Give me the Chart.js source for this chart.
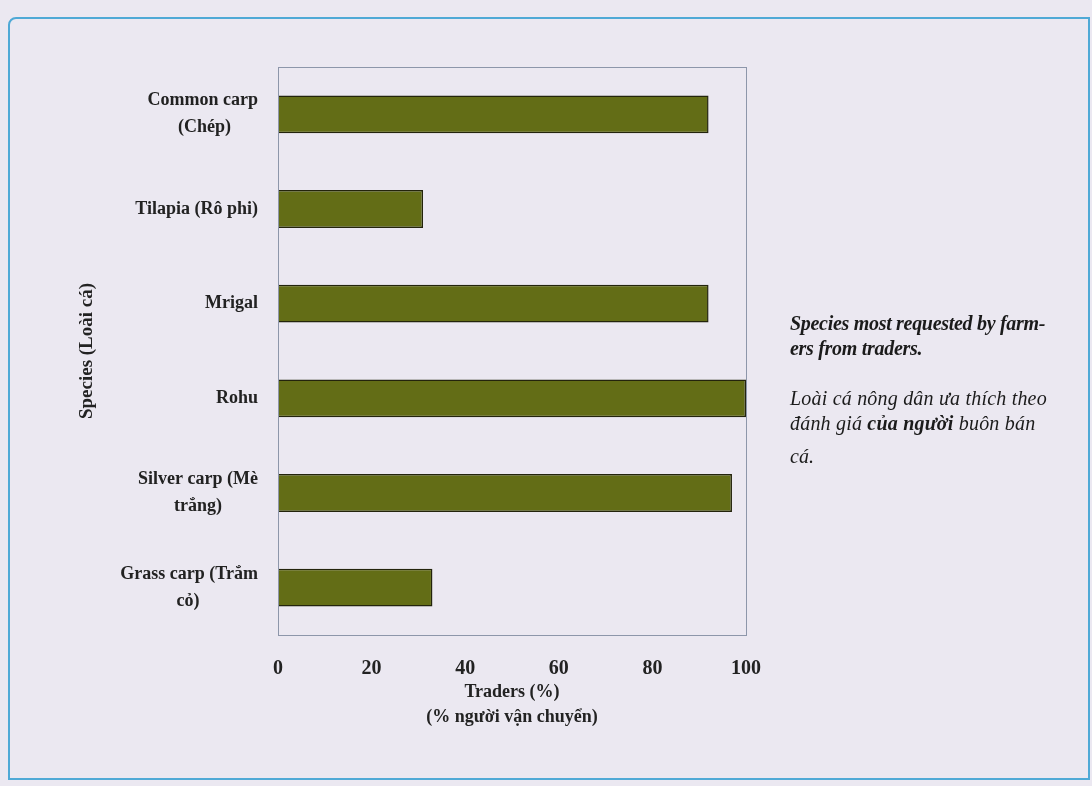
<!DOCTYPE html>
<html>
<head>
<meta charset="utf-8">
<script src="https://cdn.jsdelivr.net/npm/chart.js@4.4.0/dist/chart.umd.min.js"></script>
<style>
  html, body { margin: 0; padding: 0; background: #ebe8f1; }
  #wrap { position: relative; width: 1092px; height: 786px; overflow: hidden; }
  #frame {
    position: absolute; left: 8px; top: 17px; right: 2px; bottom: 6px;
    border: 2px solid #4fa9d6; border-top-left-radius: 8px;
  }
  #speciesChart { position: absolute; left: 0; top: 0; }
  #note {
    position: absolute; left: 790px; top: 311px; width: 300px;
    font-family: "Liberation Serif", "Times New Roman", serif;
    font-style: italic; font-size: 20px; color: #1b1b1b; line-height: 25px;
  }
  #note .en { font-weight: bold; letter-spacing: -0.3px; }
  #note .vi { margin-top: 25px; letter-spacing: 0.2px; }
  #note .last { margin-top: 8px; }
</style>
</head>
<body>
<div id="wrap">
  <div id="frame"></div>
  <canvas id="speciesChart" width="1092" height="786"></canvas>
  <div id="note">
    <div class="en">Species most requested by farm-<br>ers from traders.</div>
    <div class="vi">Loài cá nông dân ưa thích theo<br>đánh giá <b>của người</b> buôn bán</div>
    <div class="last">cá.</div>
  </div>
</div>
<script>
// categories (top to bottom) and % of traders
var species = [
  ['Common carp', '(Chép)'],
  ['Tilapia (Rô phi)'],
  ['Mrigal'],
  ['Rohu'],
  ['Silver carp (Mè', 'trắng)'],
  ['Grass carp (Trắm', 'cỏ)']
];
var traders = [92, 31, 92, 100, 97, 33];
var xTicks = [0, 20, 40, 60, 80, 100];

var serif = '"Liberation Serif", "Times New Roman", serif';
var labelFont = 'bold 18px ' + serif;

// centre the short lines of a two-line label under the longer one
var measureCtx = document.createElement('canvas').getContext('2d');
measureCtx.font = labelFont;
function centreLines(lines) {
  var widths = lines.map(function(l) { return measureCtx.measureText(l).width; });
  var maxW = Math.max.apply(null, widths);
  var space = measureCtx.measureText(' ').width;
  return lines.map(function(l, i) {
    var n = Math.round((maxW - widths[i]) / 2 / space);
    return l + ' '.repeat(n);
  });
}

// thin frame round the plot area
var plotFrame = {
  id: 'plotFrame',
  afterDatasetsDraw: function(chart) {
    var a = chart.chartArea, ctx = chart.ctx;
    ctx.save();
    ctx.strokeStyle = '#8d96aa';
    ctx.lineWidth = 1;
    ctx.strokeRect(a.left + 0.5, a.top + 0.5, a.right - a.left, a.bottom - a.top);
    ctx.restore();
  }
};

var ctx = document.getElementById('speciesChart').getContext('2d');
var speciesChart = new Chart(ctx, {
  type: 'bar',
  data: {
    labels: species,
    datasets: [{
      label: 'Traders (%)',
      data: traders,
      backgroundColor: '#636d16',
      borderColor: '#23240c',
      borderWidth: 1.5,
      barPercentage: 0.4,
      categoryPercentage: 1
    }]
  },
  options: {
    indexAxis: 'y',
    responsive: false,
    animation: false,
    layout: { padding: { left: 66, right: 346, top: 67, bottom: 51 } },
    plugins: {
      legend: { display: false },
      tooltip: { enabled: false }
    },
    scales: {
      x: {
        min: 0,
        max: 100,
        afterBuildTicks: function(scale) {
          scale.ticks = xTicks.map(function(v) { return { value: v }; });
        },
        afterFit: function(scale) { scale.height = 100; },
        grid: { display: false },
        border: { display: false },
        ticks: {
          padding: 14,
          color: '#222',
          font: { family: serif, size: 20, weight: 'bold' }
        },
        title: {
          display: true,
          text: ['Traders (%)', '(% người vận chuyển)'],
          color: '#222',
          padding: { top: 0, bottom: 5 },
          font: { family: serif, size: 18, weight: 'bold', lineHeight: 25 / 18 }
        }
      },
      y: {
        afterFit: function(scale) { scale.width = 212; },
        grid: { display: false },
        border: { display: false },
        ticks: {
          padding: 12,
          color: '#222',
          font: { family: serif, size: 18, weight: 'bold', lineHeight: 27 / 18 },
          callback: function(value) {
            return centreLines(species[value]);
          }
        },
        title: {
          display: true,
          text: 'Species (Loài cá)',
          color: '#222',
          padding: { top: 10, bottom: 0 },
          font: { family: serif, size: 19, weight: 'bold' }
        }
      }
    }
  },
  plugins: [plotFrame]
});
</script>
</body>
</html>
